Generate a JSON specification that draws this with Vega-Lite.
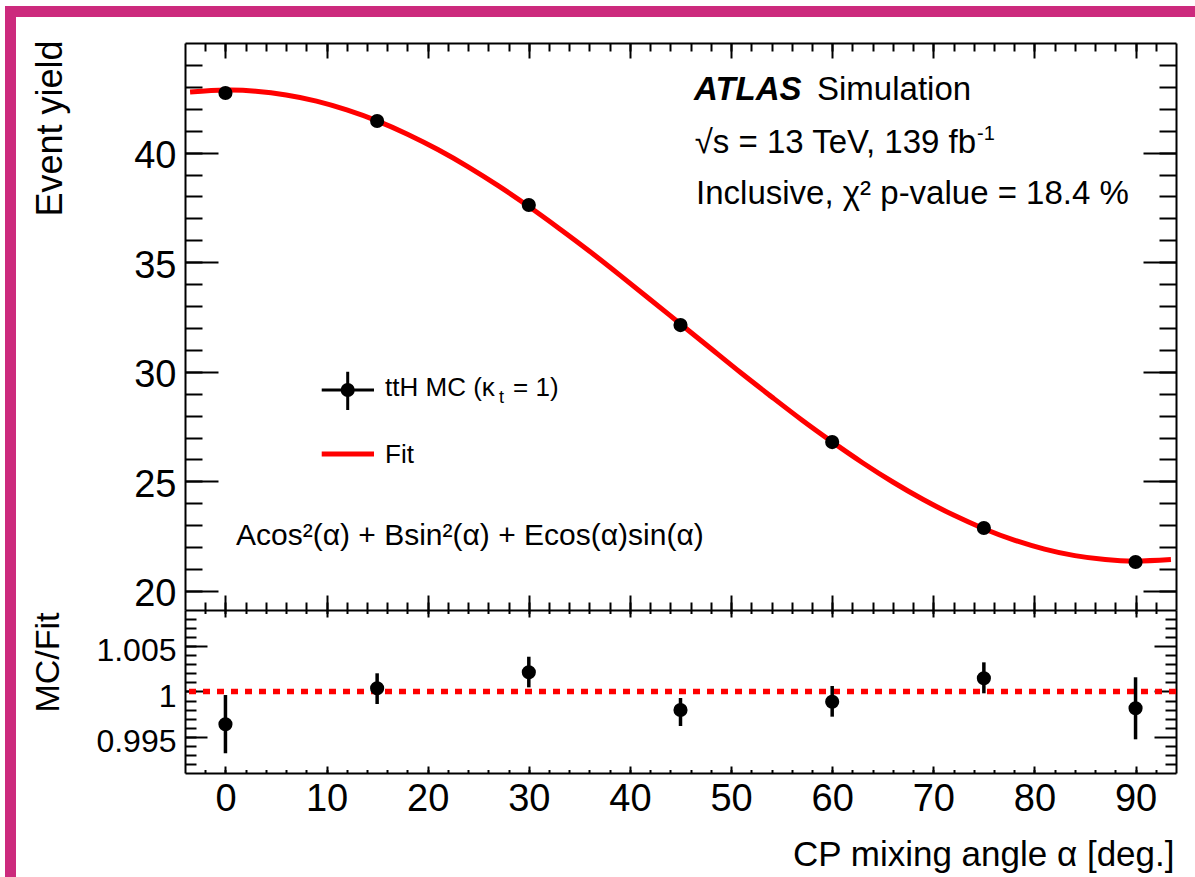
{
  "$schema": "https://vega.github.io/schema/vega-lite/v6.json",
  "padding": {"left": 5, "top": 6, "right": 0, "bottom": 0},
  "background": "white",
  "bounds": "flush",
  "spacing": 0,
  "config": {
    "font": "Liberation Sans",
    "view": {"stroke": null},
    "axis": {"grid": false, "domain": false, "ticks": true, "tickColor": "black", "tickWidth": 2, "domainColor": "black", "domainWidth": 2, "labelColor": "black", "titleColor": "black", "labelFont": "Liberation Sans", "titleFont": "Liberation Sans", "titleFontWeight": "normal", "labelFlush": false, "labelOverlap": false}
  },
  "datasets": {
    "pts": [
      {"alpha": 0, "yield": 42.72, "ratio": 0.99638, "rlo": 0.99318, "rhi": 0.99961},
      {"alpha": 15, "yield": 41.44, "ratio": 1.00035, "rlo": 0.99862, "rhi": 1.00201},
      {"alpha": 30, "yield": 37.61, "ratio": 1.00212, "rlo": 1.00046, "rhi": 1.00384},
      {"alpha": 45, "yield": 32.13, "ratio": 0.99796, "rlo": 0.99619, "rhi": 0.99928},
      {"alpha": 60, "yield": 26.79, "ratio": 0.99887, "rlo": 0.99722, "rhi": 1.00061},
      {"alpha": 75, "yield": 22.87, "ratio": 1.00146, "rlo": 0.9998, "rhi": 1.00322},
      {"alpha": 90, "yield": 21.32, "ratio": 0.99815, "rlo": 0.99472, "rhi": 1.00157}
    ],
    "fit": [
      {"alpha": -3.5, "fit": 42.76}, {"alpha": 0, "fit": 42.85}, {"alpha": 3, "fit": 42.8}, {"alpha": 6, "fit": 42.63},
      {"alpha": 9, "fit": 42.35}, {"alpha": 12, "fit": 41.95}, {"alpha": 15, "fit": 41.45}, {"alpha": 18, "fit": 40.84},
      {"alpha": 21, "fit": 40.14}, {"alpha": 24, "fit": 39.35}, {"alpha": 27, "fit": 38.48}, {"alpha": 30, "fit": 37.54},
      {"alpha": 33, "fit": 36.54}, {"alpha": 36, "fit": 35.5}, {"alpha": 39, "fit": 34.41}, {"alpha": 42, "fit": 33.3},
      {"alpha": 45, "fit": 32.18}, {"alpha": 48, "fit": 31.06}, {"alpha": 51, "fit": 29.94}, {"alpha": 54, "fit": 28.86},
      {"alpha": 57, "fit": 27.8}, {"alpha": 60, "fit": 26.8}, {"alpha": 63, "fit": 25.85}, {"alpha": 66, "fit": 24.97},
      {"alpha": 69, "fit": 24.17}, {"alpha": 72, "fit": 23.46}, {"alpha": 75, "fit": 22.84}, {"alpha": 78, "fit": 22.32},
      {"alpha": 81, "fit": 21.91}, {"alpha": 84, "fit": 21.61}, {"alpha": 87, "fit": 21.43}, {"alpha": 90, "fit": 21.36},
      {"alpha": 93.5, "fit": 21.43}
    ]
  },
  "vconcat": [
    {"width": 1190, "height": 11, "view": {"fill": "#cc2a7d", "stroke": null}, "data": {"values": []}, "mark": "point"},
    {
      "hconcat": [
        {"width": 11, "height": 860, "view": {"fill": "#cc2a7d", "stroke": null}, "data": {"values": []}, "mark": "point"},
        {
          "vconcat": [
            {"width": 991, "height": 26, "view": {"stroke": null}, "data": {"values": []}, "mark": "point"},
            {
              "width": 991, "height": 567,
              "view": {"stroke": null},
              "resolve": {"axis": {"x": "independent", "y": "independent"}},
              "layer": [
                {
                  "data": {"name": "fit"},
                  "mark": {"type": "line", "color": "#ff0000", "strokeWidth": 5, "interpolate": "natural"},
                  "encoding": {
                    "x": {"field": "alpha", "type": "quantitative", "scale": {"domain": [-4, 94], "nice": false, "zero": false},
                      "axis": {"orient": "bottom", "values": [0,10,20,30,40,50,60,70,80,90], "tickSize": -15, "labels": false, "domain": true, "title": null}},
                    "y": {"field": "fit", "type": "quantitative", "scale": {"domain": [19.13, 45], "nice": false, "zero": false},
                      "axis": {"orient": "left", "values": [20,25,30,35,40], "tickSize": -33, "labelPadding": 42, "labelFontSize": 38, "labelOffset": 4, "domain": true,
                        "title": "Event yield", "titleFontSize": 36, "titleAngle": -90, "titleAlign": "right", "titleBaseline": "alphabetic", "titleX": -124, "titleY": -3}}
                  }
                },
                {
                  "data": {"name": "pts"},
                  "mark": {"type": "circle", "color": "black", "size": 200, "opacity": 1},
                  "encoding": {
                    "x": {"field": "alpha", "type": "quantitative", "scale": {"domain": [-4, 94], "nice": false, "zero": false},
                      "axis": {"orient": "bottom", "values": [-2,0,2,4,6,8,10,12,14,16,18,20,22,24,26,28,30,32,34,36,38,40,42,44,46,48,50,52,54,56,58,60,62,64,66,68,70,72,74,76,78,80,82,84,86,88,90,92], "tickSize": -8, "labels": false, "title": null}},
                    "y": {"field": "yield", "type": "quantitative", "scale": {"domain": [19.13, 45], "nice": false, "zero": false},
                      "axis": {"orient": "left", "values": [20,21,22,23,24,25,26,27,28,29,30,31,32,33,34,35,36,37,38,39,40,41,42,43,44], "tickSize": -17, "labels": false, "title": null}}
                  }
                },
                {
                  "data": {"values": [{}]},
                  "mark": {"type": "text", "text": "ATLAS", "fontSize": 33, "fontWeight": "bold", "fontStyle": "italic", "align": "left", "baseline": "alphabetic", "color": "black"},
                  "encoding": {
                    "x": {"datum": 46.34, "type": "quantitative", "scale": {"domain": [-4, 94], "nice": false, "zero": false},
                      "axis": {"orient": "bottom", "values": [0,10,20,30,40,50,60,70,80,90], "tickSize": 7, "labels": false, "title": null}},
                    "y": {"datum": 42.4, "type": "quantitative", "scale": {"domain": [19.13, 45], "nice": false, "zero": false},
                      "axis": {"orient": "right", "values": [20,25,30,35,40], "tickSize": -33, "labels": false, "domain": true, "title": null}}
                  }
                },
                {
                  "data": {"values": [{}]},
                  "mark": {"type": "text", "text": "Simulation", "fontSize": 33, "align": "left", "baseline": "alphabetic", "color": "black"},
                  "encoding": {
                    "x": {"datum": 58.5, "type": "quantitative", "scale": {"domain": [-4, 94], "nice": false, "zero": false},
                      "axis": {"orient": "bottom", "values": [-2,0,2,4,6,8,10,12,14,16,18,20,22,24,26,28,30,32,34,36,38,40,42,44,46,48,50,52,54,56,58,60,62,64,66,68,70,72,74,76,78,80,82,84,86,88,90,92], "tickSize": 3.5, "labels": false, "title": null}},
                    "y": {"datum": 42.4, "type": "quantitative", "scale": {"domain": [19.13, 45], "nice": false, "zero": false},
                      "axis": {"orient": "right", "values": [20,21,22,23,24,25,26,27,28,29,30,31,32,33,34,35,36,37,38,39,40,41,42,43,44], "tickSize": -17, "labels": false, "title": null}}
                  }
                },
                {
                  "data": {"values": [{}]},
                  "mark": {"type": "text", "text": "√s = 13 TeV, 139 fb", "fontSize": 33, "align": "left", "baseline": "alphabetic", "color": "black"},
                  "encoding": {
                    "x": {"datum": 46.4, "type": "quantitative", "scale": {"domain": [-4, 94], "nice": false, "zero": false},
                      "axis": {"orient": "top", "values": [0,10,20,30,40,50,60,70,80,90], "tickSize": -15, "labels": false, "domain": true, "title": null}},
                    "y": {"datum": 39.98, "type": "quantitative", "scale": {"domain": [19.13, 45], "nice": false, "zero": false}, "axis": null}
                  }
                },
                {
                  "data": {"values": [{}]},
                  "mark": {"type": "text", "text": "-1", "fontSize": 20, "align": "left", "baseline": "alphabetic", "color": "black"},
                  "encoding": {
                    "x": {"datum": 74.32, "type": "quantitative", "scale": {"domain": [-4, 94], "nice": false, "zero": false},
                      "axis": {"orient": "top", "values": [-2,0,2,4,6,8,10,12,14,16,18,20,22,24,26,28,30,32,34,36,38,40,42,44,46,48,50,52,54,56,58,60,62,64,66,68,70,72,74,76,78,80,82,84,86,88,90,92], "tickSize": -8, "labels": false, "title": null}},
                    "y": {"datum": 40.57, "type": "quantitative", "scale": {"domain": [19.13, 45], "nice": false, "zero": false}, "axis": null}
                  }
                },
                {
                  "data": {"values": [{}]},
                  "mark": {"type": "text", "text": "Inclusive, χ² p-value = 18.4 %", "fontSize": 33, "align": "left", "baseline": "alphabetic", "color": "black"},
                  "encoding": {
                    "x": {"datum": 46.54, "type": "quantitative", "scale": {"domain": [-4, 94], "nice": false, "zero": false}, "axis": null},
                    "y": {"datum": 37.65, "type": "quantitative", "scale": {"domain": [19.13, 45], "nice": false, "zero": false}, "axis": null}
                  }
                },
                {
                  "data": {"values": [{}]},
                  "mark": {"type": "rule", "color": "black", "strokeWidth": 3},
                  "encoding": {
                    "x": {"datum": 9.52, "type": "quantitative", "scale": {"domain": [-4, 94], "nice": false, "zero": false}, "axis": null},
                    "x2": {"datum": 14.69},
                    "y": {"datum": 29.17, "type": "quantitative", "scale": {"domain": [19.13, 45], "nice": false, "zero": false}, "axis": null}
                  }
                },
                {
                  "data": {"values": [{}]},
                  "mark": {"type": "rule", "color": "black", "strokeWidth": 3},
                  "encoding": {
                    "x": {"datum": 12.09, "type": "quantitative", "scale": {"domain": [-4, 94], "nice": false, "zero": false}, "axis": null},
                    "y": {"datum": 30.0, "type": "quantitative", "scale": {"domain": [19.13, 45], "nice": false, "zero": false}, "axis": null},
                    "y2": {"datum": 28.255}
                  }
                },
                {
                  "data": {"values": [{}]},
                  "mark": {"type": "circle", "color": "black", "size": 200, "opacity": 1},
                  "encoding": {
                    "x": {"datum": 12.09, "type": "quantitative", "scale": {"domain": [-4, 94], "nice": false, "zero": false}, "axis": null},
                    "y": {"datum": 29.17, "type": "quantitative", "scale": {"domain": [19.13, 45], "nice": false, "zero": false}, "axis": null}
                  }
                },
                {
                  "data": {"values": [{}]},
                  "mark": {"type": "rule", "color": "#ff0000", "strokeWidth": 5},
                  "encoding": {
                    "x": {"datum": 9.52, "type": "quantitative", "scale": {"domain": [-4, 94], "nice": false, "zero": false}, "axis": null},
                    "x2": {"datum": 14.69},
                    "y": {"datum": 26.25, "type": "quantitative", "scale": {"domain": [19.13, 45], "nice": false, "zero": false}, "axis": null}
                  }
                },
                {
                  "data": {"values": [{}]},
                  "mark": {"type": "text", "text": "ttH MC (κ", "fontSize": 26, "align": "left", "baseline": "alphabetic", "color": "black"},
                  "encoding": {
                    "x": {"datum": 15.78, "type": "quantitative", "scale": {"domain": [-4, 94], "nice": false, "zero": false}, "axis": null},
                    "y": {"datum": 28.89, "type": "quantitative", "scale": {"domain": [19.13, 45], "nice": false, "zero": false}, "axis": null}
                  }
                },
                {
                  "data": {"values": [{}]},
                  "mark": {"type": "text", "text": "t", "fontSize": 18, "align": "left", "baseline": "alphabetic", "color": "black"},
                  "encoding": {
                    "x": {"datum": 27.05, "type": "quantitative", "scale": {"domain": [-4, 94], "nice": false, "zero": false}, "axis": null},
                    "y": {"datum": 28.59, "type": "quantitative", "scale": {"domain": [19.13, 45], "nice": false, "zero": false}, "axis": null}
                  }
                },
                {
                  "data": {"values": [{}]},
                  "mark": {"type": "text", "text": "= 1)", "fontSize": 26, "align": "left", "baseline": "alphabetic", "color": "black"},
                  "encoding": {
                    "x": {"datum": 28.44, "type": "quantitative", "scale": {"domain": [-4, 94], "nice": false, "zero": false}, "axis": null},
                    "y": {"datum": 28.89, "type": "quantitative", "scale": {"domain": [19.13, 45], "nice": false, "zero": false}, "axis": null}
                  }
                },
                {
                  "data": {"values": [{}]},
                  "mark": {"type": "text", "text": "Fit", "fontSize": 26, "align": "left", "baseline": "alphabetic", "color": "black"},
                  "encoding": {
                    "x": {"datum": 15.78, "type": "quantitative", "scale": {"domain": [-4, 94], "nice": false, "zero": false}, "axis": null},
                    "y": {"datum": 25.82, "type": "quantitative", "scale": {"domain": [19.13, 45], "nice": false, "zero": false}, "axis": null}
                  }
                },
                {
                  "data": {"values": [{}]},
                  "mark": {"type": "text", "text": "Acos²(α) + Bsin²(α) + Ecos(α)sin(α)", "fontSize": 30, "align": "left", "baseline": "alphabetic", "color": "black"},
                  "encoding": {
                    "x": {"datum": 1.04, "type": "quantitative", "scale": {"domain": [-4, 94], "nice": false, "zero": false}, "axis": null},
                    "y": {"datum": 22.1, "type": "quantitative", "scale": {"domain": [19.13, 45], "nice": false, "zero": false}, "axis": null}
                  }
                }
              ]
            },
            {
              "width": 991, "height": 163,
              "view": {"stroke": null},
              "resolve": {"axis": {"x": "independent", "y": "independent"}},
              "layer": [
                {
                  "data": {"values": [{}]},
                  "mark": {"type": "rule", "color": "#ff0000", "strokeWidth": 5.5, "strokeDash": [7, 7]},
                  "encoding": {
                    "y": {"datum": 1, "type": "quantitative", "scale": {"domain": [0.991, 1.009], "nice": false, "zero": false},
                      "axis": {"orient": "right", "values": [0.992,0.993,0.994,0.995,0.996,0.997,0.998,0.999,1,1.001,1.002,1.003,1.004,1.005,1.006,1.007,1.008],
                        "tickSize": {"condition": {"test": "abs(datum.value - 0.995) < 0.00001 || abs(datum.value - 1) < 0.00001 || abs(datum.value - 1.005) < 0.00001", "value": -22}, "value": -11},
                        "labels": false, "domain": true, "title": null}}
                  }
                },
                {
                  "data": {"name": "pts"},
                  "mark": {"type": "rule", "color": "black", "strokeWidth": 3.5},
                  "encoding": {
                    "x": {"field": "alpha", "type": "quantitative", "scale": {"domain": [-4, 94], "nice": false, "zero": false},
                      "axis": {"orient": "bottom", "values": [0,10,20,30,40,50,60,70,80,90], "tickSize": -7, "labelPadding": 14, "labelFontSize": 38, "domain": true,
                        "title": "CP mixing angle α [deg.]", "titleFontSize": 35, "titleAngle": 0, "titleAlign": "right", "titleBaseline": "alphabetic", "titleX": 989, "titleY": 92}},
                    "y": {"field": "rlo", "type": "quantitative", "scale": {"domain": [0.991, 1.009], "nice": false, "zero": false},
                      "axis": {"orient": "left", "values": [0.995, 1, 1.005], "tickSize": -22, "labelPadding": 31, "labelFontSize": 32, "labelOffset": 4.5,
                        "labelExpr": "datum.value == 1 ? '1' : format(datum.value, '.3f')", "domain": true,
                        "title": "MC/Fit", "titleFontSize": 34, "titleAngle": -90, "titleAlign": "right", "titleBaseline": "alphabetic", "titleX": -127, "titleY": 2}},
                    "y2": {"field": "rhi"}
                  }
                },
                {
                  "data": {"name": "pts"},
                  "mark": {"type": "circle", "color": "black", "size": 200, "opacity": 1},
                  "encoding": {
                    "x": {"field": "alpha", "type": "quantitative", "scale": {"domain": [-4, 94], "nice": false, "zero": false},
                      "axis": {"orient": "bottom", "values": [-2,0,2,4,6,8,10,12,14,16,18,20,22,24,26,28,30,32,34,36,38,40,42,44,46,48,50,52,54,56,58,60,62,64,66,68,70,72,74,76,78,80,82,84,86,88,90,92], "tickSize": -3.5, "labels": false, "title": null}},
                    "y": {"field": "ratio", "type": "quantitative", "scale": {"domain": [0.991, 1.009], "nice": false, "zero": false},
                      "axis": {"orient": "left", "values": [0.992,0.993,0.994,0.995,0.996,0.997,0.998,0.999,1,1.001,1.002,1.003,1.004,1.005,1.006,1.007,1.008], "tickSize": -11, "labels": false, "title": null}}
                  }
                }
              ]
            }
          ],
          "spacing": 0,
          "bounds": "flush"
        }
      ],
      "spacing": 169,
      "bounds": "flush"
    }
  ]
}
